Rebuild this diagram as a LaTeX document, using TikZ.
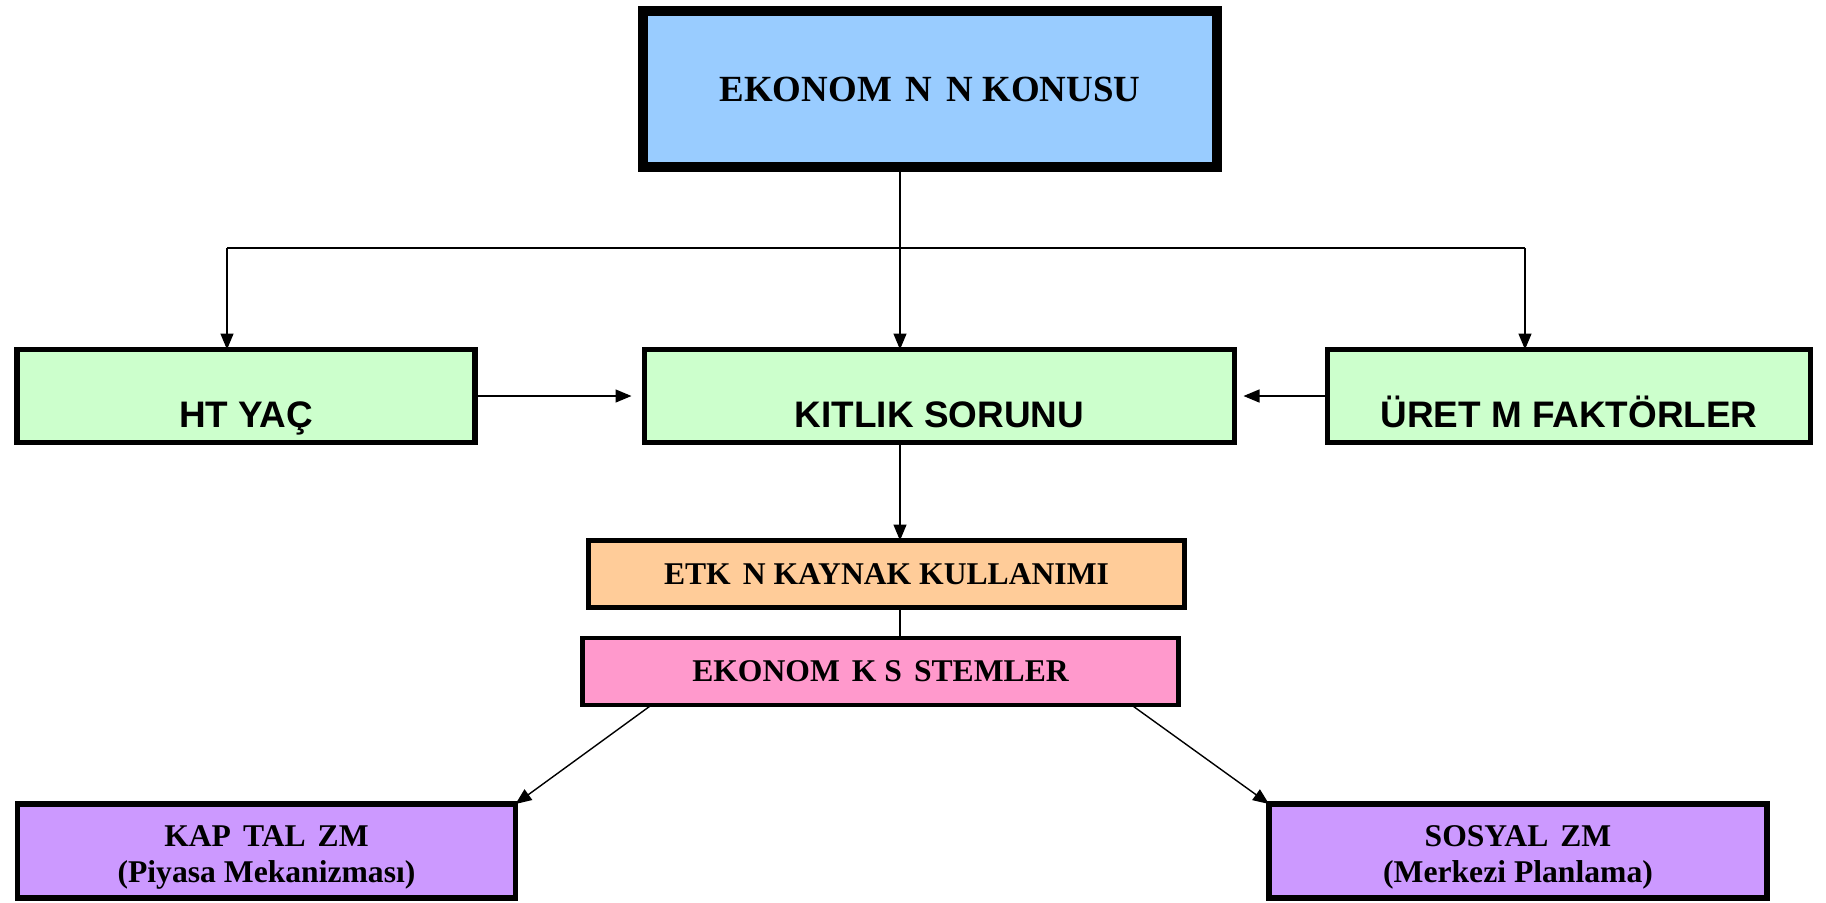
\documentclass[tikz,border=0pt]{standalone}
\usepackage{fontspec}
\setmainfont{Liberation Serif}
\setsansfont{Liberation Sans}
\usepackage{xcolor}
\usetikzlibrary{arrows.meta,positioning}

\definecolor{topblue}{HTML}{99CCFF}
\definecolor{lightgreen}{HTML}{CCFFCC}
\definecolor{peach}{HTML}{FFCC99}
\definecolor{rose}{HTML}{FF99CC}
\definecolor{lilac}{HTML}{CC99FF}

\begin{document}
\begin{tikzpicture}[
    every node/.style={inner sep=0pt, outer sep=0pt},
    box/.style={draw, rectangle, align=center},
    topbox/.style={box, fill=topblue, line width=2.6pt, minimum width=5.74cm, minimum height=1.56cm,
        font=\fontsize{10.5}{12}\selectfont\bfseries},
    greenbox/.style={box, fill=lightgreen, line width=1.7pt, minimum height=0.93cm,
        text height=0.62cm, text depth=0pt, font=\sffamily\fontsize{10.5}{12}\selectfont\bfseries},
    midbox/.style={box, line width=1.4pt, minimum width=5.96cm, minimum height=0.67cm,
        font=\fontsize{9}{10.5}\selectfont\bfseries},
    lowbox/.style={box, fill=lilac, line width=1.6pt, minimum width=4.98cm, minimum height=0.94cm,
        font=\fontsize{9}{10.3}\selectfont\bfseries},
    arr/.style={-{Triangle[length=0.16cm, width=0.13cm]}, thin},
    line/.style={thin}
]
\useasboundingbox (0,0) rectangle (18.26,9.02);

% Header
\node[topbox] (konu) at (9.30, 8.13) {EKONOM\hspace{.38em}N\hspace{.38em}N KONUSU};

% Green row
\node[greenbox, minimum width=4.58cm] (ihtiyac) at (2.46, 5.06) {HT YAÇ};
\node[greenbox, minimum width=5.90cm] (kitlik)  at (9.395, 5.06) {KITLIK SORUNU};
\node[greenbox, minimum width=4.83cm] (uretim)  at (15.69, 5.06) {ÜRET M FAKTÖRLER};

% Middle boxes
\node[midbox, fill=peach] (etkin) at (8.865, 3.28) {ETK\hspace{.38em}N KAYNAK KULLANIMI};
\node[midbox, fill=rose]  (sistem) at (8.805, 2.305) {EKONOM\hspace{.38em}K S\hspace{.38em}STEMLER};

% Systems
\node[lowbox] (kapital) at (2.665, 0.51) {\rule{0pt}{3.3mm}KAP\hspace{.38em}TAL\hspace{.38em}ZM\\(Piyasa Mekanizması)};
\node[lowbox] (sosyal)  at (15.18, 0.51) {\rule{0pt}{3.3mm}SOSYAL\hspace{.38em}ZM\\(Merkezi Planlama)};

% Spine and bus
\coordinate (spine) at (9.00, 0);
\coordinate (busL) at (2.27, 6.54);
\coordinate (busR) at (15.25, 6.54);

\draw[arr] (konu.south -| spine) -- (kitlik.north -| spine);
\draw[line] (busL) -- (busR);
\draw[arr] (busL) -- (busL |- ihtiyac.north);
\draw[arr] (busR) -- (busR |- uretim.north);

% Side arrows
\draw[arr, shorten >=0.13cm] (ihtiyac.east) -- (kitlik.west);
\draw[arr, shorten >=0.09cm] (uretim.west) -- (kitlik.east);

% Down the middle
\draw[arr] (kitlik.south -| spine) -- (etkin.north -| spine);
\draw[line] (etkin.south -| spine) -- (sistem.north -| spine);

% Diagonals
\draw[arr] ([xshift=0.69cm]sistem.south west) -- (kapital.north east);
\draw[arr] ([xshift=-0.47cm]sistem.south east) -- (sosyal.north west);

\end{tikzpicture}
\end{document}
